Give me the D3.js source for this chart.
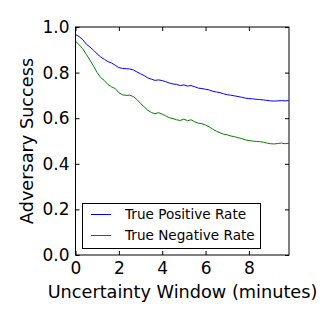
<!DOCTYPE html>
<html><head><meta charset="utf-8">
<script src="https://cdn.jsdelivr.net/npm/d3@7"></script>
<style>body{margin:0;background:#fff}svg{display:block}text{font-family:"DejaVu Sans",sans-serif}</style>
</head><body>
<script>
const times = d3.range(60).map(k => k / 6);
const truePositive = [0.967,0.958,0.945,0.925,0.912,0.898,0.882,0.868,0.858,0.848,0.842,0.832,0.822,0.818,0.817,0.816,0.812,0.803,0.795,0.787,0.777,0.771,0.766,0.768,0.765,0.760,0.754,0.750,0.748,0.743,0.746,0.741,0.743,0.738,0.732,0.730,0.727,0.724,0.718,0.715,0.712,0.707,0.703,0.701,0.698,0.695,0.692,0.688,0.686,0.685,0.683,0.682,0.680,0.678,0.676,0.675,0.676,0.677,0.676,0.677];
const trueNegative = [0.938,0.922,0.905,0.880,0.855,0.828,0.800,0.778,0.765,0.748,0.737,0.730,0.712,0.703,0.700,0.701,0.695,0.682,0.665,0.650,0.635,0.625,0.620,0.624,0.618,0.610,0.602,0.598,0.593,0.590,0.596,0.589,0.593,0.584,0.578,0.576,0.570,0.562,0.552,0.543,0.536,0.530,0.527,0.522,0.519,0.514,0.511,0.505,0.502,0.500,0.498,0.497,0.495,0.491,0.488,0.487,0.489,0.491,0.488,0.490];
const xTicks = [0,2,4,6,8];
const yTicks = [0.0,0.2,0.4,0.6,0.8,1.0];
const seriesNames = ["True Positive Rate","True Negative Rate"];
const seriesColors = ["#0000ff","#008000"];

const W = 320, H = 320;
const L = 75.5, R = 289, T = 27, B = 255;
const svg = d3.select("body").append("svg").attr("width", W).attr("height", H);
const x = d3.scaleLinear().domain([0, 9.85]).range([L, R]);
const y = d3.scaleLinear().domain([0, 1]).range([B, T]);

const series = [truePositive, trueNegative];
const line = d3.line().x((d, i) => x(times[i])).y(d => y(d));
series.forEach((s, k) => {
  svg.append("path").datum(s).attr("d", line).attr("fill", "none")
    .attr("stroke", seriesColors[k]).attr("stroke-width", 1);
});

const fs = 17;
const gx = svg.append("g").attr("transform", `translate(0,${B})`)
  .call(d3.axisBottom(x).tickValues(xTicks).tickFormat(d3.format("d")).tickSizeInner(-4).tickSizeOuter(0).tickPadding(6));
const gxt = svg.append("g").attr("transform", `translate(0,${T})`)
  .call(d3.axisTop(x).tickValues(xTicks).tickFormat("").tickSizeInner(-4).tickSizeOuter(0));
const gy = svg.append("g").attr("transform", `translate(${L},0)`)
  .call(d3.axisLeft(y).tickValues(yTicks).tickFormat(d3.format(".1f")).tickSizeInner(-4).tickSizeOuter(0).tickPadding(6));
const gyr = svg.append("g").attr("transform", `translate(${R},0)`)
  .call(d3.axisRight(y).tickValues(yTicks).tickFormat("").tickSizeInner(-4).tickSizeOuter(0));
[gx, gxt, gy, gyr].forEach(g => {
  g.select(".domain").remove();
  g.selectAll("line").attr("stroke", "#000");
  g.selectAll("text").attr("font-size", fs).attr("fill", "#000").attr("font-family", "DejaVu Sans");
});
gx.selectAll("text").attr("dy", "0.75em");

svg.append("rect").attr("x", L).attr("y", T).attr("width", R - L).attr("height", B - T)
  .attr("fill", "none").attr("stroke", "#000").attr("stroke-width", 1);

svg.append("text").attr("x", 182.5).attr("y", 298).attr("text-anchor", "middle")
  .attr("font-size", 17.7).text("Uncertainty Window (minutes)");
svg.append("text").attr("transform", `translate(33,${(T + B) / 2}) rotate(-90)`).attr("text-anchor", "middle")
  .attr("font-size", 17.7).text("Adversary Success");

const lg = svg.append("g");
lg.append("rect").attr("x", 82.5).attr("y", 203.5).attr("width", 178).attr("height", 45)
  .attr("fill", "#fff").attr("stroke", "#000").attr("stroke-width", 1);
seriesNames.forEach((n, k) => {
  const cy = 214.5 + k * 21;
  lg.append("line").attr("x1", 91).attr("x2", 111).attr("y1", cy).attr("y2", cy)
    .attr("stroke", seriesColors[k]).attr("stroke-width", 1);
  lg.append("text").attr("x", 125).attr("y", cy).attr("dy", "0.35em").attr("font-size", 13.6).text(n);
});
</script>
</body></html>
